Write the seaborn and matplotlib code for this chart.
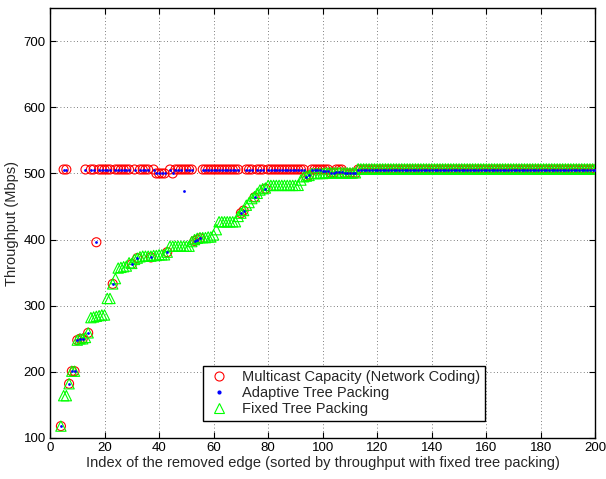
import matplotlib
matplotlib.use("Agg")
import matplotlib.pyplot as plt
from matplotlib.lines import Line2D
import seaborn as sns
import pandas as pd

# Edge indices (1..3 fall below the plotted range)
edge_index = list(range(4, 201))

# Multicast capacity (network coding), Mbps
coding = [
    118, 506, 506, 182, 201, 201, 248, 250, 250, 506,   # 4-13
    259, 506, 506, 396, 506, 506, 506, 506, 506, 333,   # 14-23
    506, 506, 506, 506, 506, 506, 363, 506, 372, 506,   # 24-33
    506, 506, 506, 373, 506, 500, 500, 500, 500, 381,   # 34-43
    506, 500, 506, 506, 506, 506, 506, 506, 506, 398,   # 44-53
    400, 402, 506, 506, 506, 506, 506, 506, 506, 506,   # 54-63
    506, 506, 506, 506, 506, 506, 440, 444, 506, 506,   # 64-73
    506, 464, 506, 506, 506, 477, 506, 506, 506, 506,   # 74-83
    506, 506, 506, 506, 506, 506, 506, 506, 506, 506,   # 84-93
    495, 497, 506, 506, 506, 506, 506, 506, 506, 501,   # 94-103
    501, 506, 506, 506, 500, 500, 500, 500, 500, 506,   # 104-113
    506, 506, 506, 506, 506, 506, 506, 506, 506, 506,   # 114-123
    506, 506, 506, 506, 506, 506, 506, 506, 506, 506,   # 124-133
    506, 506, 506, 506, 506, 506, 506, 506, 506, 506,   # 134-143
    506, 506, 506, 506, 506, 506, 506, 506, 506, 506,   # 144-153
    506, 506, 506, 506, 506, 506, 506, 506, 506, 506,   # 154-163
    506, 506, 506, 506, 506, 506, 506, 506, 506, 506,   # 164-173
    506, 506, 506, 506, 506, 506, 506, 506, 506, 506,   # 174-183
    506, 506, 506, 506, 506, 506, 506, 506, 506, 506,   # 184-193
    506, 506, 506, 506, 506, 506, 506,                  # 194-200
]

# Adaptive tree packing, Mbps
adaptive = [
    118, 506, 506, 182, 201, 201, 248, 250, 250, 506,   # 4-13
    259, 506, 506, 396, 506, 506, 506, 506, 506, 333,   # 14-23
    506, 506, 506, 506, 506, 506, 363, 506, 372, 506,   # 24-33
    506, 506, 506, 373, 506, 500, 500, 500, 500, 381,   # 34-43
    506, 500, 506, 506, 506, 473, 506, 506, 506, 398,   # 44-53
    400, 402, 506, 506, 506, 506, 506, 506, 506, 506,   # 54-63
    506, 506, 506, 506, 506, 506, 440, 444, 506, 506,   # 64-73
    506, 464, 506, 506, 506, 477, 506, 506, 506, 506,   # 74-83
    506, 506, 506, 506, 506, 506, 506, 506, 506, 506,   # 84-93
    495, 497, 506, 506, 506, 506, 503, 503, 503, 501,   # 94-103
    501, 502, 502, 502, 500, 500, 500, 500, 500, 506,   # 104-113
    506, 506, 506, 506, 506, 506, 506, 506, 506, 506,   # 114-123
    506, 506, 506, 506, 506, 506, 506, 506, 506, 506,   # 124-133
    506, 506, 506, 506, 506, 506, 506, 506, 506, 506,   # 134-143
    506, 506, 506, 506, 506, 506, 506, 506, 506, 506,   # 144-153
    506, 506, 506, 506, 506, 506, 506, 506, 506, 506,   # 154-163
    506, 506, 506, 506, 506, 506, 506, 506, 506, 506,   # 164-173
    506, 506, 506, 506, 506, 506, 506, 506, 506, 506,   # 174-183
    506, 506, 506, 506, 506, 506, 506, 506, 506, 506,   # 184-193
    506, 506, 506, 506, 506, 506, 506,                  # 194-200
]

# Fixed tree packing, Mbps
fixed = [
    118, 164, 164, 182, 201, 201, 248, 250, 250, 252,   # 4-13
    259, 282, 283, 284, 285, 286, 286, 311, 311, 333,   # 14-23
    341, 357, 358, 359, 360, 365, 364, 370, 372, 374,   # 24-33
    375, 375, 375, 375, 376, 376, 377, 377, 377, 381,   # 34-43
    390, 390, 390, 390, 390, 390, 390, 390, 397, 400,   # 44-53
    402, 403, 403, 403, 404, 404, 407, 415, 427, 427,   # 54-63
    427, 427, 427, 427, 427, 435, 440, 444, 452, 456,   # 64-73
    462, 465, 470, 475, 477, 478, 482, 482, 482, 482,   # 74-83
    482, 482, 482, 482, 482, 482, 482, 482, 490, 495,   # 84-93
    496, 497, 500, 500, 500, 500, 500, 501, 501, 501,   # 94-103
    501, 501, 501, 501, 501, 501, 501, 501, 501, 507,   # 104-113
    507, 507, 507, 507, 507, 507, 507, 507, 507, 507,   # 114-123
    507, 507, 507, 507, 507, 507, 507, 507, 507, 507,   # 124-133
    507, 507, 507, 507, 507, 507, 507, 507, 507, 507,   # 134-143
    507, 507, 507, 507, 507, 507, 507, 507, 507, 507,   # 144-153
    507, 507, 507, 507, 507, 507, 507, 507, 507, 507,   # 154-163
    507, 507, 507, 507, 507, 507, 507, 507, 507, 507,   # 164-173
    507, 507, 507, 507, 507, 507, 507, 507, 507, 507,   # 174-183
    507, 507, 507, 507, 507, 507, 507, 507, 507, 507,   # 184-193
    507, 507, 507, 507, 507, 507, 507,                  # 194-200
]

labels = ["Multicast Capacity (Network Coding)", "Adaptive Tree Packing", "Fixed Tree Packing"]
x_ticks = [0, 20, 40, 60, 80, 100, 120, 140, 160, 180, 200]
y_ticks = [100, 200, 300, 400, 500, 600, 700]

df = pd.DataFrame({"idx": edge_index, "coding": coding,
                   "adaptive": adaptive, "fixed": fixed})

sns.set_style("white")
plt.rcParams["font.family"] = ["Liberation Sans", "DejaVu Sans"]

fig = plt.figure(figsize=(6.06, 4.79), dpi=100)
ax = fig.add_axes([0.0825, 0.0856, 0.9, 0.8974])

# network coding: hollow red circles
sns.scatterplot(data=df, x="idx", y="coding", ax=ax, marker="o", s=42,
                color="red", edgecolor="red", linewidth=0.8, zorder=3)
ax.collections[-1].set_facecolor("none")
# fixed tree packing: hollow green triangles
sns.scatterplot(data=df, x="idx", y="fixed", ax=ax, marker="^", s=55,
                color="#00ff00", edgecolor="#00ff00", linewidth=0.8, zorder=4)
ax.collections[-1].set_facecolor("none")
# adaptive: small blue dots
sns.scatterplot(data=df, x="idx", y="adaptive", ax=ax, marker="o", s=4,
                color="blue", edgecolor="blue", linewidth=0, zorder=5)

ax.set_xlim(0, 200)
ax.set_ylim(100, 750)
ax.set_xticks(x_ticks)
ax.set_yticks(y_ticks)
ax.tick_params(direction="in", length=4, width=0.8, labelsize=9.5,
               top=True, right=True, bottom=True, left=True, colors="black", pad=3)
ax.grid(True, linestyle=(0, (1, 3)), color="#555555", linewidth=0.6)
for s in ax.spines.values():
    s.set_color("black")
    s.set_linewidth(1.0)

ax.set_xlabel("Index of the removed edge (sorted by throughput with fixed tree packing)",
              fontsize=10.5, labelpad=1)
ax.set_ylabel("Throughput (Mbps)", fontsize=10.5, labelpad=3)

handles = [
    Line2D([], [], linestyle="", marker="o", markersize=6.5, markerfacecolor="none",
           markeredgecolor="red", markeredgewidth=0.8),
    Line2D([], [], linestyle="", marker="o", markersize=2, markerfacecolor="blue",
           markeredgecolor="blue"),
    Line2D([], [], linestyle="", marker="^", markersize=7, markerfacecolor="none",
           markeredgecolor="#00ff00", markeredgewidth=0.8),
]
leg = ax.legend(handles, labels, loc="lower left", bbox_to_anchor=(0.28, 0.04),
                fontsize=10.5, frameon=True, fancybox=False, framealpha=1,
                edgecolor="black", borderpad=0.3, labelspacing=0.15,
                handlelength=1.6, handletextpad=0.8, borderaxespad=0)
leg.get_frame().set_linewidth(1.0)

fig.savefig("out.png", dpi=100)
